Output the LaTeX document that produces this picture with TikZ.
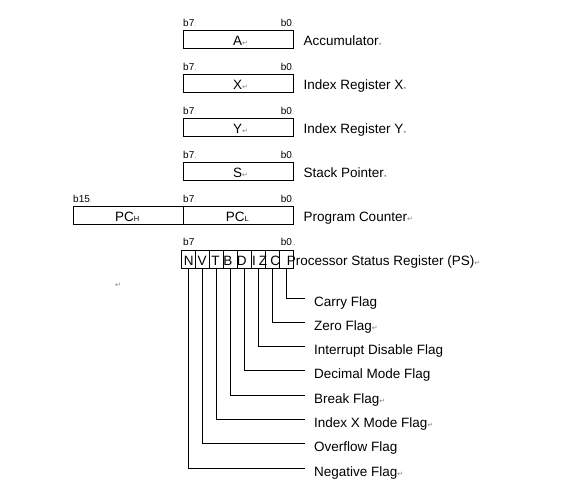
\documentclass[tikz,border=0pt]{standalone}
\usepackage{fontspec}
\setmainfont{Liberation Sans}
\newfontfamily\dvfont{DejaVu Sans}
\newcommand\rmk{{\color{gray}\dvfont\fontsize{7}{8}\selectfont ↵}}
\newcommand\cmk{{\color{gray}\dvfont\fontsize{4.5}{5}\selectfont ◂}}
\newcommand\dt{{\color{gray}\fontsize{7}{8}\selectfont .}}
\begin{document}
\begin{tikzpicture}[x=1pt,y=-1pt,
  txt/.style={inner sep=0pt, anchor=base west, font=\fontsize{13.5}{16}\selectfont},
  bitlab/.style={inner sep=0pt, anchor=base west, font=\fontsize{10}{12}\selectfont},
  regbox/.style={draw, line width=0.9pt, inner sep=0pt, anchor=north west, minimum height=18pt},
  cell/.style={draw, line width=0.9pt, inner sep=0pt, anchor=north west, minimum width=14pt, minimum height=17.7pt},
  wire/.style={line width=0.9pt}]
\useasboundingbox (0,0) rectangle (578,497);

% 8-bit registers
\foreach \n/\lab/\y/\m in {A/Accumulator/30.3/\cmk, X/Index Register X/74.3/\cmk, Y/Index Register Y/118.3/\cmk, S/Stack Pointer/162.3/\cmk}{
  \node[regbox, minimum width=110pt] (box\n) at (183,\y) {};
  \node[bitlab] (hi\n) at (183,\y-4) {b7\dt};
  \node[bitlab] (lo\n) at (280.7,\y-4) {b0\dt};
  \node[txt] (name\n) at (233,\y+15) {\n\rmk};
  \node[txt] (lab\n) at (303.3,\y+15) {\lab\m};
}

% program counter
\node[regbox, minimum width=110pt] (boxPCH) at (73,206.3) {};
\node[regbox, minimum width=110pt] (boxPCL) at (183,206.3) {};
\node[bitlab] (hiPC) at (73,202.3) {b15\dt};
\node[bitlab] (midPC) at (183,202.3) {b7\dt};
\node[bitlab] (loPC) at (280.7,202.3) {b0\dt};
\node[txt] (namePCH) at (115,221.3) {PC{\fontsize{7.5}{9}\selectfont H}};
\node[txt] (namePCL) at (225.7,221.3) {PC{\fontsize{7.5}{9}\selectfont L}};
\node[txt] (labPC) at (303.3,221.3) {Program Counter\rmk};

% processor status register
\node[bitlab] (hiPS) at (183,245) {b7};
\node[bitlab] (loPS) at (280.7,245) {b0\dt\dt};
\foreach \i/\c in {0/N,1/V,2/T,3/B,4/D,5/I,6/Z,7/C}{
  \node[cell] (cell\c) at (181+14*\i,250) {};
}
\foreach \c/\x in {N/188.8,V/202,T/215.5,B/227.8,D/241.7,I/254,Z/263,C/275.3}{
  \node[txt, anchor=base] (let\c) at (\x,265) {\c};
}
\node[txt] (labPS) at (286.7,265) {Processor Status Register (PS)\rmk};
\node[txt] (stray) at (115,287) {\rmk};

% flags
\foreach \c/\k/\lab in {C/0/Carry Flag, Z/1/Zero Flag\rmk, I/2/Interrupt Disable Flag, D/3/Decimal Mode Flag, B/4/Break Flag\rmk, T/5/Index X Mode Flag\rmk, V/6/Overflow Flag, N/7/Negative Flag\rmk}{
  \coordinate (end\c) at (305,298+24.3*\k);
  \node[txt] (flag\c) at (314,306+24.3*\k) {\lab};
  \draw[wire] (cell\c.south) |- (end\c);
}
\end{tikzpicture}
\end{document}
